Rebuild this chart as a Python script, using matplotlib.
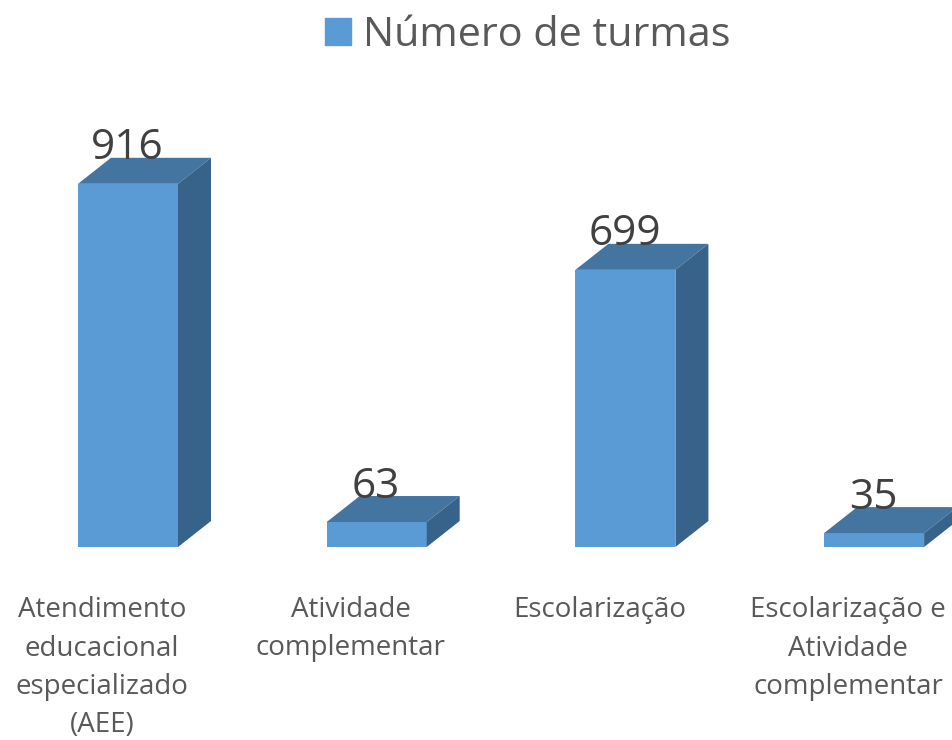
import matplotlib
matplotlib.use('Agg')
import matplotlib.pyplot as plt
from matplotlib.patches import Polygon, Patch

categories = ['Atendimento\neducacional\nespecializado\n(AEE)', 'Atividade\ncomplementar',
              'Escolarização', 'Escolarização e\nAtividade\ncomplementar']
values = [916, 63, 699, 35]
series_name = 'Número de turmas'

W, H = 953, 740
step = 248.7        # px between bars
scale = 0.3965      # px per unit
base_px = 547
first_px = 128

front = '#5b9bd5'
top = '#4475a1'
side = '#37638a'
txt = '#404040'

plt.rcParams['font.family'] = ['Open Sans', 'DejaVu Sans']

fig = plt.figure(figsize=(W/100, H/100), dpi=100)
ax = fig.add_axes([0, 0, 1, 1])
ax.set_xlim(-first_px/step, (W-first_px)/step)
ax.set_ylim((base_px-H)/scale, base_px/scale)
ax.axis('off')

bw = 100/step
dx = 33/step
dy = 26/scale

ax.bar(range(len(values)), values, width=bw, color=front, linewidth=0, zorder=2)
for i in range(len(values)):
    v = values[i]
    l = i - bw/2
    r = i + bw/2
    ax.add_patch(Polygon([(l, v), (r, v), (r+dx, v+dy), (l+dx, v+dy)], color=top, lw=0, zorder=2))
    ax.add_patch(Polygon([(r, 0), (r+dx, dy), (r+dx, v+dy), (r, v)], color=side, lw=0, zorder=2))
    ax.text(i-0.002, v+dy/2+22.5/scale, str(v), ha='center', va='center', fontsize=30.5, color=txt, zorder=3)
    ax.text(i-0.105, -(596-base_px)/scale, categories[i], ha='center', va='top', fontsize=20,
            color='#595959', linespacing=1.5)

ax.legend(handles=[Patch(color=front, label=series_name)], loc='upper center',
          bbox_to_anchor=(0.554, 1.007), frameon=False, fontsize=29.8, labelcolor='#595959',
          handlelength=0.63, handleheight=0.63, handletextpad=0.3, borderaxespad=0.1)

plt.savefig('out.png', dpi=100)
